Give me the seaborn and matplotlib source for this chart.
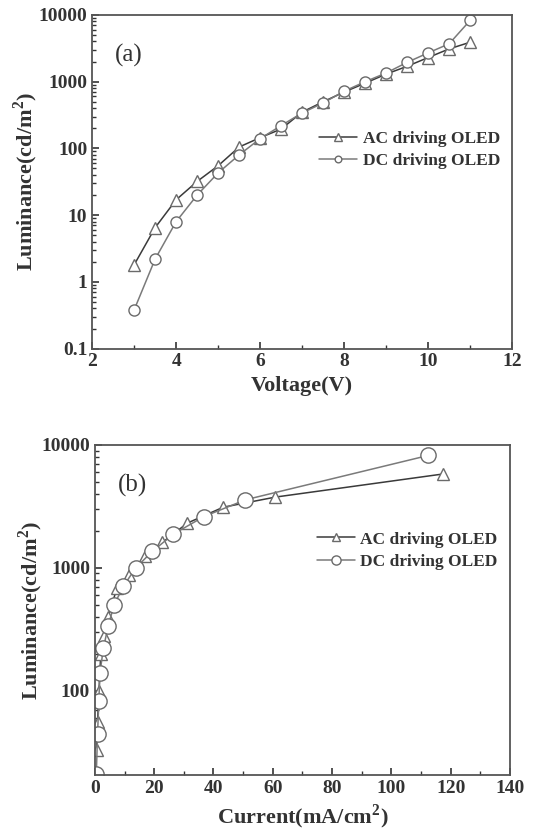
import numpy as np
import pandas as pd
import seaborn as sns
import matplotlib.pyplot as plt
from matplotlib.ticker import LogLocator, MultipleLocator, NullFormatter

# data (a): luminance vs voltage
voltage = [3, 3.5, 4, 4.5, 5, 5.5, 6, 6.5, 7, 7.5, 8, 8.5, 9, 9.5, 10, 10.5, 11]
ac_lum_v = [1.8, 6.5, 17, 32, 55, 105, 145, 195, 350, 500, 700, 950, 1300, 1700, 2300, 3100, 3900]
dc_lum_v = [0.38, 2.2, 8, 20, 43, 80, 140, 220, 340, 480, 720, 1000, 1350, 1950, 2700, 3700, 8300]

# data (b): luminance vs current density
ac_current = [0.6, 0.9, 1.4, 2.0, 3.0, 4.5, 7.5, 11.5, 16.8, 22.8, 31.2, 43.3, 60.9, 117.5]
ac_lum_i = [33, 56, 100, 200, 280, 400, 690, 880, 1240, 1610, 2310, 3110, 3760, 5800]
dc_current = [0.5, 0.9, 1.35, 1.7, 2.9, 4.5, 6.5, 9.6, 13.8, 19.4, 26.5, 36.8, 50.8, 112.4]
dc_lum_i = [21, 44, 82, 139, 222, 337, 500, 705, 1000, 1360, 1880, 2610, 3575, 8200]

sns.set_style("ticks")
plt.rcParams['font.family'] = ['Liberation Serif', 'DejaVu Serif']
plt.rcParams['font.weight'] = 'bold'
plt.rcParams['axes.labelweight'] = 'bold'
plt.rcParams['mathtext.fontset'] = 'custom'
plt.rcParams['mathtext.rm'] = 'Liberation Serif'
plt.rcParams['mathtext.bf'] = 'Liberation Serif:bold'

fig = plt.figure(figsize=(5.42, 8.3), dpi=100)
ax1 = fig.add_axes([0.170, 0.580, 0.775, 0.402])
ax2 = fig.add_axes([0.175, 0.066, 0.766, 0.398])

ac_color = '#3a3a3a'
dc_color = '#7a7a7a'
edge = '#6a6a6a'

df_a = pd.DataFrame({'V': voltage, 'AC': ac_lum_v, 'DC': dc_lum_v})
sns.lineplot(data=df_a, x='V', y='AC', ax=ax1, color=ac_color, lw=1.1,
             marker='^', markersize=9, markerfacecolor='white', markeredgecolor=edge,
             markeredgewidth=1.0, label='AC driving OLED')
sns.lineplot(data=df_a, x='V', y='DC', ax=ax1, color=dc_color, lw=1.1,
             marker='o', markersize=8, markerfacecolor='white', markeredgecolor=edge,
             markeredgewidth=1.0, label='DC driving OLED')

df_ac = pd.DataFrame({'I': ac_current, 'L': ac_lum_i})
df_dc = pd.DataFrame({'I': dc_current, 'L': dc_lum_i})
sns.lineplot(data=df_ac, x='I', y='L', ax=ax2, color=ac_color, lw=1.1, sort=False,
             marker='^', markersize=9, markerfacecolor='white', markeredgecolor=edge,
             markeredgewidth=1.0, label='AC driving OLED')
sns.lineplot(data=df_dc, x='I', y='L', ax=ax2, color=dc_color, lw=1.1, sort=False,
             marker='o', markersize=11, markerfacecolor='white', markeredgecolor=edge,
             markeredgewidth=1.0, label='DC driving OLED')

for ax in (ax1, ax2):
    ax.set_yscale('log')
    ax.yaxis.set_major_locator(LogLocator(base=10))
    ax.yaxis.set_minor_locator(LogLocator(base=10, subs=np.arange(2, 10)))
    ax.yaxis.set_minor_formatter(NullFormatter())
    ax.yaxis.set_major_formatter(plt.FuncFormatter(lambda v, p: ('%g' % v)))
    ax.tick_params(which='major', direction='in', length=5, width=1.2, labelsize=14,
                   colors='#333333')
    ax.tick_params(which='minor', direction='in', length=3, width=1.0, colors='#333333')
    for s in ax.spines.values():
        s.set_color('#555555')
        s.set_linewidth(1.3)
    for lab in ax.get_xticklabels() + ax.get_yticklabels():
        lab.set_fontweight('bold')

ax1.set_xlim(2, 12)
ax1.set_ylim(0.1, 10000)
ax1.xaxis.set_major_locator(MultipleLocator(2))
ax1.xaxis.set_minor_locator(MultipleLocator(1))
ax1.set_xlabel('Voltage(V)', fontsize=16, color='#333333', labelpad=4)
ax1.set_ylabel('Luminance(cd/m$^\\mathbf{2}$)', fontsize=16, color='#333333')
ax1.yaxis.set_label_coords(-0.125, 0.5)
ax1.text(0.055, 0.86, '(a)', transform=ax1.transAxes, fontsize=18, fontweight='normal',
         color='#333333')

ax2.set_xlim(0, 140)
ax2.set_ylim(20.5, 10000)
ax2.xaxis.set_major_locator(MultipleLocator(20))
ax2.xaxis.set_minor_locator(MultipleLocator(10))
ax2.set_xlabel('Current(mA/cm$^\\mathbf{2}$)', fontsize=16, color='#333333', labelpad=4)
ax2.set_ylabel('Luminance(cd/m$^\\mathbf{2}$)', fontsize=16, color='#333333')
ax2.yaxis.set_label_coords(-0.12, 0.5)
ax2.text(0.055, 0.86, '(b)', transform=ax2.transAxes, fontsize=18, fontweight='normal',
         color='#333333')

for ax, anchor in ((ax1, (1.0, 0.69)), (ax2, (1.0, 0.775))):
    leg = ax.legend(frameon=False, fontsize=12.5, handlelength=2.2, handletextpad=0.3,
                    labelspacing=0.35, borderaxespad=0.3, markerscale=0.6,
                    loc='upper right', bbox_to_anchor=anchor)
    for t in leg.get_texts():
        t.set_fontweight('bold')
        t.set_color('#333333')

fig.savefig('out.png', dpi=100, facecolor='white')
